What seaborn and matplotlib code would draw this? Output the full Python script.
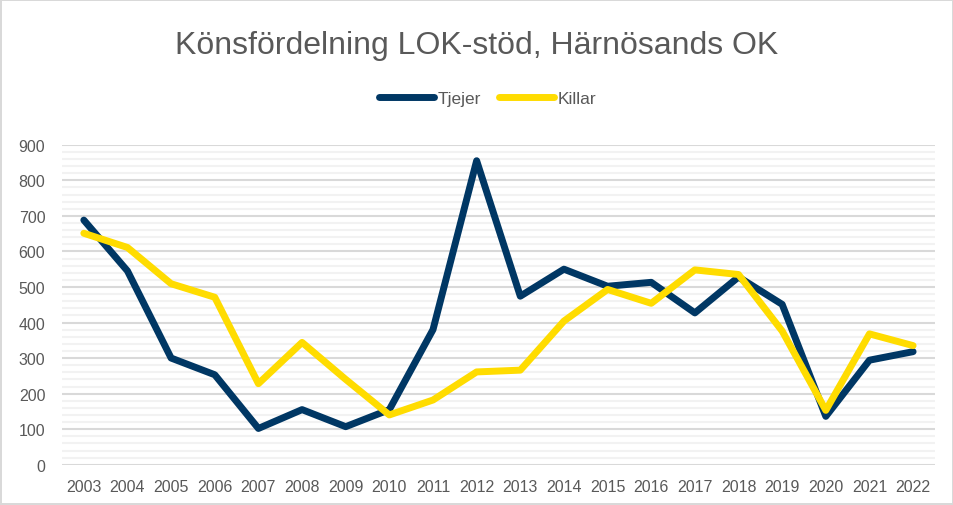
import pandas as pd
import matplotlib.pyplot as plt
import seaborn as sns
from matplotlib.ticker import MultipleLocator

# Data
years = list(range(2003, 2023))
tjejer = [688, 545, 300, 253, 102, 155, 107, 155, 380, 855,
          474, 550, 502, 513, 427, 528, 451, 136, 294, 318]
killar = [651, 611, 509, 471, 228, 344, 240, 140, 182, 261,
          266, 404, 493, 454, 548, 535, 376, 153, 368, 335]
series_names = ['Tjejer', 'Killar']

df = pd.DataFrame({'År': years, 'Tjejer': tjejer, 'Killar': killar})
df = pd.melt(df, id_vars='År', var_name='Kön', value_name='Antal')

# Plot
sns.set_theme(style='white')
plt.rcParams['font.family'] = ['Liberation Sans', 'DejaVu Sans']
fig = plt.figure(figsize=(9.54, 5.06), dpi=100)
fig.patch.set_edgecolor('#d9d9d9')
fig.patch.set_linewidth(1.5)
ax = fig.add_axes([0.065, 0.0796, 0.915, 0.6324])

palette = {'Tjejer': '#003764', 'Killar': '#FFDC00'}
sns.lineplot(data=df, x='År', y='Antal', hue='Kön', hue_order=series_names,
             palette=palette, linewidth=5, ax=ax, zorder=3)
for line in ax.lines:
    line.set_solid_joinstyle('round')
    line.set_solid_capstyle('round')

# Axes
ax.set_xlim(2002.5, 2022.5)
ax.set_ylim(0, 900)
ax.set_xticks(years)
ax.set_xticklabels([str(y) for y in years])
ax.yaxis.set_major_locator(MultipleLocator(100))
ax.yaxis.set_minor_locator(MultipleLocator(20))
ax.grid(which='major', axis='y', color='#d9d9d9', linewidth=1.5, zorder=0)
ax.grid(which='minor', axis='y', color='#f2f2f2', linewidth=1.5, zorder=0)
ax.set_axisbelow(True)
ax.tick_params(axis='both', which='both', length=0, labelsize=11.5, colors='#595959')
ax.tick_params(axis='x', pad=10)
ax.tick_params(axis='y', pad=12)
ax.set_xlabel('')
ax.set_ylabel('')
sns.despine(ax=ax, left=True, bottom=True)

# Title and legend
fig.text(0.5, 0.91, 'Könsfördelning LOK-stöd, Härnösands OK', ha='center', va='center',
         fontsize=23, color='#595959')
handles, labels = ax.get_legend_handles_labels()
leg = ax.legend(handles, labels, loc='center', bbox_to_anchor=(0.511, 0.803), bbox_transform=fig.transFigure,
                ncols=2, frameon=False, fontsize=12.5, labelcolor='#595959', handlelength=3.2,
                handletextpad=0.2, columnspacing=1.0)
for h in leg.legend_handles:
    h.set_solid_capstyle('round')

plt.savefig('out.png', dpi=100)
